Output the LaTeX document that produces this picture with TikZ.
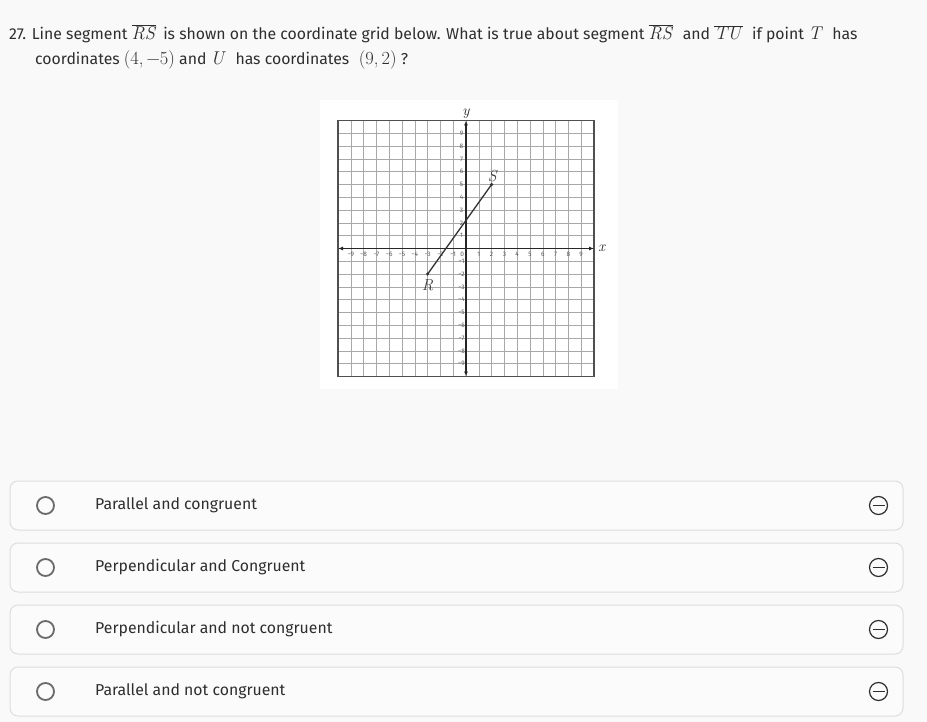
\documentclass[tikz,border=0pt]{standalone}
\usepackage{fontspec}
\setmainfont{Fira Sans}
\newfontfamily\lmr{Latin Modern Roman}
\usetikzlibrary{arrows.meta}

\definecolor{pagebg}{HTML}{F9F9F9}
\definecolor{boxline}{HTML}{DDDDDD}
\definecolor{boxfill}{HTML}{FBFBFB}
\definecolor{txtgray}{HTML}{2E2E2E}
\definecolor{radiogray}{HTML}{6A6A6A}
\definecolor{gridgray}{HTML}{A8A8A8}
\definecolor{framegray}{HTML}{505050}

% math of the question, a little larger than the text
\newcommand{\qm}[1]{{\fontsize{18.5}{18}\selectfont\lmr #1}}
\newcommand{\qvar}[1]{{\fontsize{18.5}{18}\selectfont\lmr\itshape #1\/}}
\newcommand{\qseg}[1]{$\overline{\hbox{\qvar{#1}}}$}

\begin{document}
\begin{tikzpicture}[x=1pt,y=-1pt,
  qtext/.style={anchor=base west, inner sep=0pt, text=txtgray, font=\fontsize{15.8}{18}\selectfont},
  choicebox/.style={draw=boxline, fill=boxfill, line width=1pt, rounded corners=8pt,
    minimum width=893pt, minimum height=49pt, inner sep=0pt},
  radio/.style={circle, draw=radiogray, line width=1.8pt, minimum size=17pt, inner sep=0pt},
  choicetext/.style={anchor=west, inner sep=0pt, text=txtgray, font=\fontsize{15.8}{18}\selectfont},
  minusicon/.style={circle, draw=txtgray, line width=1.2pt, minimum size=18pt, inner sep=0pt,
    path picture={\draw[txtgray, line width=1.2pt]
      ([xshift=3pt]path picture bounding box.west) -- ([xshift=-3pt]path picture bounding box.east);}},
  gridline/.style={gridgray, line width=0.5pt},
  gridframe/.style={framegray, line width=1.4pt},
  axis/.style={black!85, line width=1.2pt, {Latex[length=5pt,width=4pt]}-{Latex[length=5pt,width=4pt]}},
  ticklabel/.style={font=\fontsize{6.5}{6.5}\selectfont, text=black!65, inner sep=0pt},
  axislabel/.style={font=\fontsize{15}{15}\selectfont\lmr\itshape, inner sep=0pt, text=black!85},
  ptlabel/.style={font=\fontsize{16}{16}\selectfont\lmr\itshape, inner sep=0pt, text=black!75},
  segline/.style={black!80, line width=1.3pt},
  dot/.style={circle, fill=black!80, inner sep=0pt, minimum size=3.5pt}]

% page
\useasboundingbox[fill=pagebg] (0,0) rectangle (927,722);

% question
\node[qtext] (qline1) at (9,40) {27. Line segment \qseg{RS}\, is shown on the coordinate grid below. What is true about segment \qseg{RS}\,\, and \qseg{TU}\,\, if point \qvar{T}\,\, has};
\node[qtext] (qline2) at (35,65) {coordinates \qm{(4,\,−5)} and \qvar{U}\,\, has coordinates\,\, \qm{(9,\,2)} ?};

% picture of the grid
\fill[white] (320,100) rectangle (618,389);
\begin{scope}[shift={(466,248.5)}, x=12.8pt, y=12.8pt]
  \draw[gridline, step=1] (-10,-10) grid (10,10);
  \draw[gridframe] (-10,-10) rectangle (10,10);
  \coordinate (xleft) at (-10,0);
  \coordinate (xright) at (10,0);
  \coordinate (ybottom) at (0,-10);
  \coordinate (ytop) at (0,10);
  \draw[axis] (xleft) -- (xright);
  \draw[axis] (ybottom) -- (ytop);
  \foreach \k in {1,...,9} {
    \node[ticklabel] (xt\k) at (\k,-0.45) {\k};
    \node[ticklabel] (xtm\k) at (-\k,-0.45) {−\k};
    \node[ticklabel] (yt\k) at (-0.35,\k) {\k};
    \node[ticklabel] (ytm\k) at (-0.35,-\k) {−\k};
  }
  \node[ticklabel] (origin) at (-0.3,-0.45) {0};
  \node[axislabel] (xlab) at (10.6,0.05) {x};
  \node[axislabel] (ylab) at (0,10.55) {y};
  \coordinate (R) at (-3,-2);
  \coordinate (S) at (2,5);
  \draw[segline] (R) -- (S);
  \node[dot] (Rdot) at (R) {};
  \node[dot] (Sdot) at (S) {};
  \node[ptlabel] (Rlab) at (-3,-2.85) {R};
  \node[ptlabel] (Slab) at (2.05,5.7) {S};
\end{scope}

% answer choices
\foreach \txt [count=\i] in {Parallel and congruent, Perpendicular and Congruent,
    Perpendicular and not congruent, Parallel and not congruent} {
  \pgfmathsetmacro\yy{505.5+62*(\i-1)}
  \node[choicebox] (box\i) at (456.5,\yy) {};
  \node[radio] (radio\i) at (45.5,\yy) {};
  \node[choicetext] (choice\i) at (95,\yy) {\txt};
  \node[minusicon] (minus\i) at (878.5,\yy) {};
}
\end{tikzpicture}
\end{document}
